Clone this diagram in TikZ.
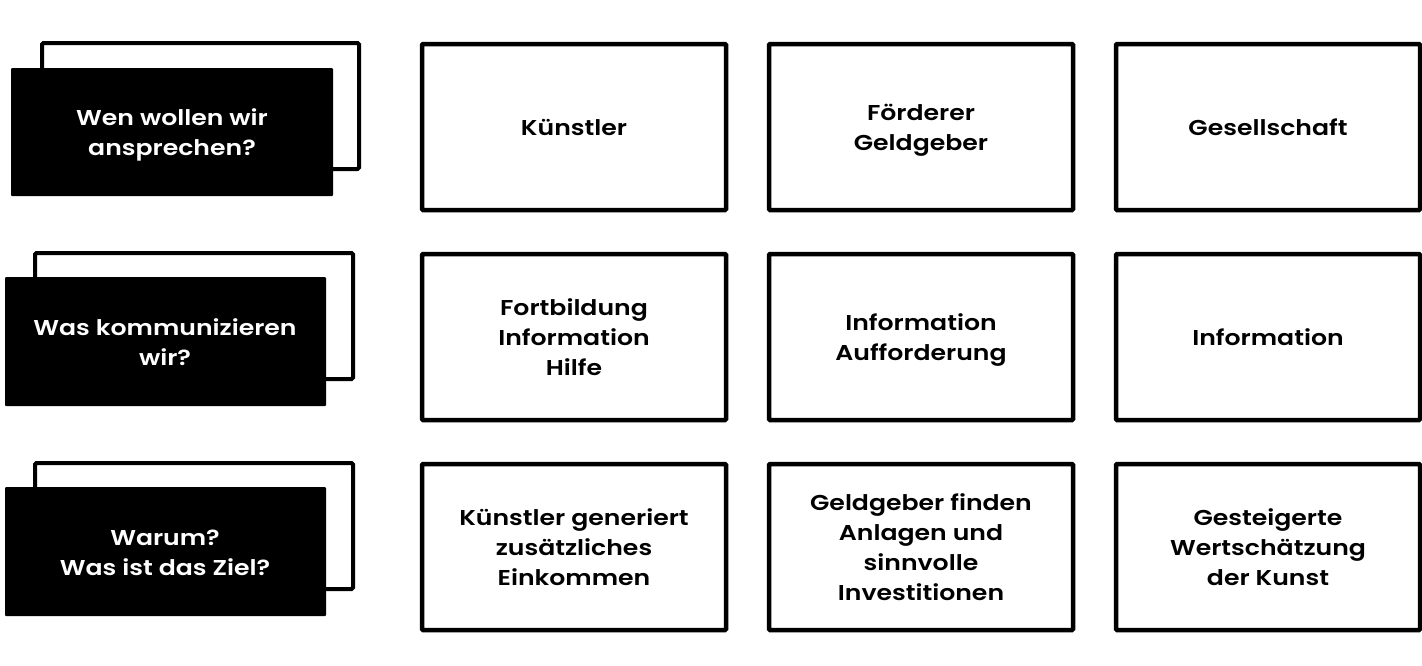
\documentclass[tikz,border=0pt]{standalone}
\usepackage{fontspec}
\setmainfont{Poppins}[UprightFont=* SemiBold, FakeStretch=1.17]
\begin{document}
\begin{tikzpicture}[x=1pt,y=-1pt,
  back/.style={draw=black,line width=4pt,rounded corners=1.5pt},
  front/.style={fill=black,rounded corners=1pt},
  cell/.style={draw=black,line width=4.5pt,rounded corners=1pt},
  txt/.style={align=center,font=\fontsize{21.5}{30}\selectfont},
  wtxt/.style={txt,text=white}]
\useasboundingbox (0,0) rectangle (1422,665);
% row 1 question
\draw[back] (42,43) rectangle (359,169);
\fill[front] (11,68) rectangle (333,196);
\node[wtxt] (q1) at (172,135) {Wen wollen wir\\ansprechen?};
% row 2 question
\draw[back] (35,253) rectangle (353,379);
\fill[front] (5,277) rectangle (326,406);
\node[wtxt] (q2) at (165,342) {Was kommunizieren\\wir?};
% row 3 question
\draw[back] (35,463) rectangle (353,589);
\fill[front] (5,487) rectangle (326,616);
\node[wtxt] (q3) at (165,553) {Warum?\\Was ist das Ziel?};
% grid
\foreach \cx in {422,769,1116} {
  \foreach \cy in {44,254,464} {
    \draw[cell] (\cx,\cy) rectangle ++(304,166);
  }
}
\node[txt] (a1) at (574,127) {Künstler};
\node[txt] (a2) at (921,130) {Förderer\\Geldgeber};
\node[txt] (a3) at (1268,127) {Gesellschaft};
\node[txt] (b1) at (574,337) {Fortbildung\\Information\\Hilfe};
\node[txt] (b2) at (921,340) {Information\\Aufforderung};
\node[txt] (b3) at (1268,337) {Information};
\node[txt] (c1) at (574,547) {Künstler generiert\\zusätzliches\\Einkommen};
\node[txt] (c2) at (921,547) {Geldgeber finden\\Anlagen und\\sinnvolle\\Investitionen};
\node[txt] (c3) at (1268,547) {Gesteigerte\\Wertschätzung\\der Kunst};
\end{tikzpicture}
\end{document}
